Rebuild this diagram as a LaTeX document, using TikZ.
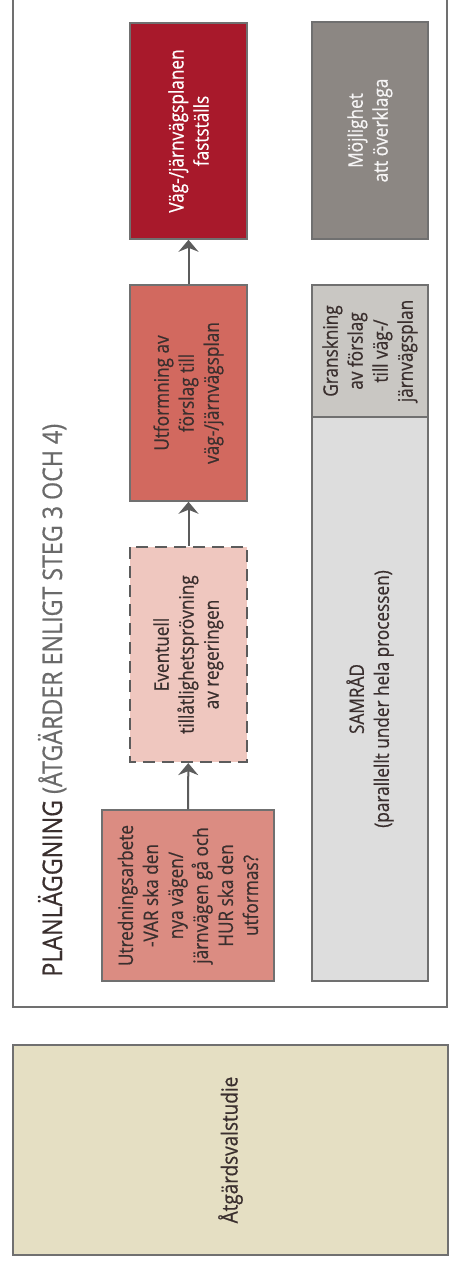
\documentclass[tikz,border=0pt]{standalone}
\usepackage{fontspec}
\setmainfont{Open Sans}[FakeStretch=0.86,FakeBold=0.6]
\usetikzlibrary{arrows.meta}
\definecolor{ramgra}{HTML}{707070}
\definecolor{pilgra}{HTML}{5C5C5C}
\definecolor{textmork}{HTML}{3A2F2E}
\definecolor{rubrikljus}{HTML}{6A6A6A}
\definecolor{morkrod}{HTML}{A8192B}
\definecolor{rod}{HTML}{D2695F}
\definecolor{ljusrod}{HTML}{EFC7BF}
\definecolor{laxrosa}{HTML}{DB8C82}
\definecolor{morkgra}{HTML}{8C8783}
\definecolor{mellangra}{HTML}{C9C7C3}
\definecolor{ljusgra}{HTML}{DDDDDD}
\definecolor{beige}{HTML}{E5DFC3}
\tikzset{
  box/.style={draw=ramgra, line width=0.75pt, rotate=90, align=center,
    inner sep=2pt, text=textmork, font=\fontsize{10}{12.5}\selectfont},
  pil/.style={draw=pilgra, line width=1pt,
    -{Stealth[length=6pt,width=10pt,inset=2pt]}},
}
\begin{document}
\begin{tikzpicture}[x=0.5pt,y=-0.5pt]
      \useasboundingbox (0,0) rectangle (454,1265);
      \fill[white] (0,0) rectangle (454,1265);
      %\draw[help lines] (0,0) grid[step=50] (454,1265);
      \draw[ramgra, line width=0.75pt] (13,-10) rectangle (447,1007);
      \node[rotate=90, anchor=base west, inner sep=0pt, text=rubrikljus,
        font=\fontsize{13.5}{16}\selectfont] (rubrik) at (62,977)
        {\textcolor{textmork}{PLANLÄGGNING} (ÅTGÄRDER ENLIGT STEG 3 OCH 4)};
      \node[box, fill=laxrosa, minimum width=85.5pt, minimum height=86pt] (utred) at (188,895.5)
        {Utredningsarbete\\-VAR ska den\\nya vägen/\\järnvägen gå och\\HUR ska den\\utformas?};
      \node[box, fill=ljusrod, dashed, dash pattern=on 6pt off 3.5pt, line width=1.1pt,
        draw=pilgra, minimum width=107.5pt, minimum height=58.5pt] (event) at (188.5,654.5)
        {Eventuell\\tillåtlighetsprövning\\av regeringen};
      \node[box, fill=rod, minimum width=108pt, minimum height=58.5pt] (utform) at (188.5,393)
        {Utformning av\\förslag till\\väg-/järnvägsplan};
      \node[box, fill=morkrod, text=white, minimum width=108pt, minimum height=58.5pt] (faststall) at (188.5,131)
        {Väg-/järnvägsplanen\\fastställs};
      \node[box, fill=morkgra, text=white!92!morkgra, minimum width=108.5pt, minimum height=58pt] (overklaga) at (370,130.5)
        {Möjlighet\\att överklaga};
      \node[box, fill=mellangra, minimum width=66pt, minimum height=58pt] (granskning) at (370,351)
        {Granskning\\av förslag\\till väg-/\\järnvägsplan};
      \node[box, fill=ljusgra, minimum width=282pt, minimum height=58pt] (samrad) at (370,699)
        {SAMRÅD\\(parallellt under hela processen)};
      \node[box, fill=beige, font=\fontsize{11}{13}\selectfont,
        minimum width=105pt, minimum height=217.5pt] (atgard) at (230.5,1150)
        {Åtgärdsvalstudie};
      \draw[pil] (utred) -- (event);
      \draw[pil] (event) -- (utform);
      \draw[pil] (utform) -- (faststall);
\end{tikzpicture}
\end{document}
